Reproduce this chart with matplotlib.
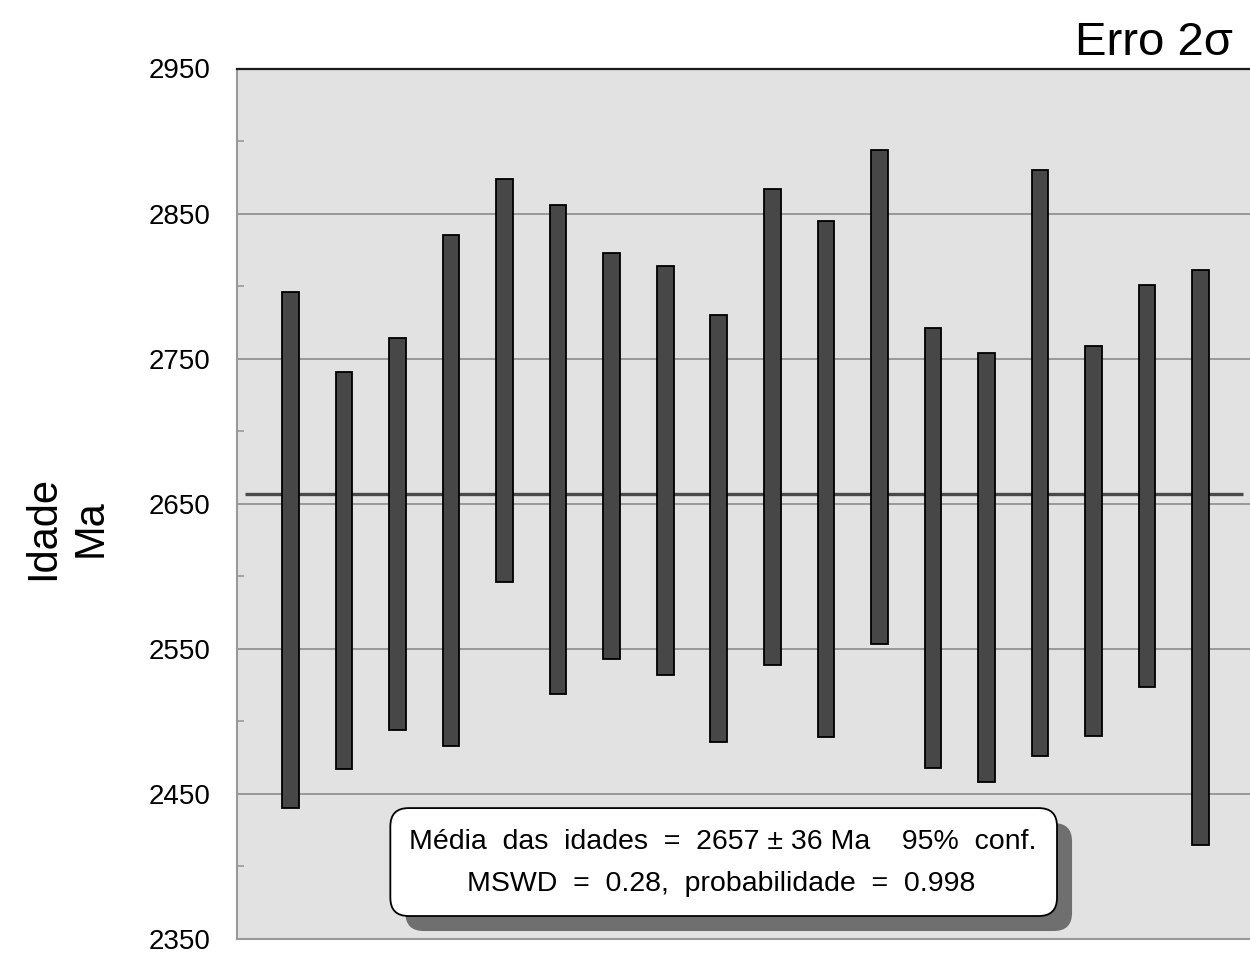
import matplotlib
matplotlib.use("Agg")
import matplotlib.pyplot as plt
from matplotlib.patches import FancyBboxPatch
from matplotlib.ticker import FixedLocator

# ---- data ----
upper = [2796, 2741, 2764, 2835, 2874, 2856, 2823, 2814, 2780,
         2867, 2845, 2894, 2771, 2754, 2880, 2759, 2801, 2811]
lower = [2440, 2467, 2494, 2483, 2596, 2519, 2543, 2532, 2486,
         2539, 2489, 2553, 2468, 2458, 2476, 2490, 2524, 2415]
mean_age = 2657
yticks = [2350, 2450, 2550, 2650, 2750, 2850, 2950]
title_txt = "Erro 2σ"
ylabel_txt = "Idade\nMa"
box_line1 = "Média  das  idades  =  2657 ± 36 Ma    95%  conf."
box_line2 = "MSWD  =  0.28,  probabilidade  =  0.998"

plt.rcParams['font.family'] = ['Liberation Sans', 'DejaVu Sans']

fig = plt.figure(figsize=(12.5, 9.66), dpi=100)
ax = fig.add_axes([237/1250, 1-939/966, 1-237/1250 + 0.002, (939-68.5)/966])
ax.set_facecolor('#e2e2e2')

x = list(range(1, len(upper) + 1))
heights = [u - l for u, l in zip(upper, lower)]
ax.bar(x, heights, bottom=lower, width=0.31, color='#474747',
       edgecolor='black', linewidth=1.3, zorder=3)

ax.plot([0.15, 18.8], [mean_age, mean_age], color='#4a4a4a', lw=2.4,
        zorder=2, solid_capstyle='butt')

ax.set_xlim(0, 18.97)
ax.set_ylim(2350, 2950)
ax.yaxis.set_major_locator(FixedLocator(yticks))
ax.yaxis.set_minor_locator(FixedLocator([2400, 2500, 2600, 2700, 2800, 2900]))
ax.set_yticklabels([str(t) for t in yticks], fontsize=20)
ax.tick_params(axis='y', which='major', length=0, pad=19)
ax.tick_params(axis='y', which='minor', direction='in', length=5,
               width=1.2, color='#999999')
ax.set_xticks([])
ax.yaxis.grid(True, which='major', color='#8c8c8c', lw=1.2, zorder=1)
ax.set_axisbelow(True)

ax.spines['right'].set_visible(False)
ax.spines['left'].set_color('#999999')
ax.spines['left'].set_linewidth(1.5)
ax.spines['bottom'].set_color('#999999')
ax.spines['bottom'].set_linewidth(1.5)
ax.spines['top'].set_color('#1a1a1a')
ax.spines['top'].set_linewidth(1.6)

# box with shadow (axes-fraction coordinates)
bx, by, bw, bh = 0.151, 0.0264, 0.6565, 0.124
dx, dy = 15/1013, -15/870
shadow = FancyBboxPatch((bx + dx, by + dy), bw, bh,
                        boxstyle="round,pad=0,rounding_size=0.018",
                        transform=ax.transAxes, facecolor='#6f6f6f',
                        edgecolor='none', zorder=5, clip_on=False,
                        mutation_aspect=1013/870)
ax.add_patch(shadow)
box = FancyBboxPatch((bx, by), bw, bh,
                     boxstyle="round,pad=0,rounding_size=0.018",
                     transform=ax.transAxes, facecolor='white',
                     edgecolor='black', linewidth=1.3, zorder=6,
                     mutation_aspect=1013/870)
ax.add_patch(box)
ax.text(0.4788, 0.1114, box_line1, transform=ax.transAxes, fontsize=20.5,
        ha='center', va='center', zorder=7)
ax.text(0.4768, 0.0632, box_line2, transform=ax.transAxes, fontsize=20.5,
        ha='center', va='center', zorder=7)

fig.text(1233/1250, 1-55/966, title_txt, fontsize=34, ha='right',
         va='baseline')
fig.text(67/1250, 1-528/966, ylabel_txt, fontsize=30, rotation=90,
         ha='center', va='center', multialignment='center', linespacing=1.25)

fig.savefig("out.png", dpi=100)
